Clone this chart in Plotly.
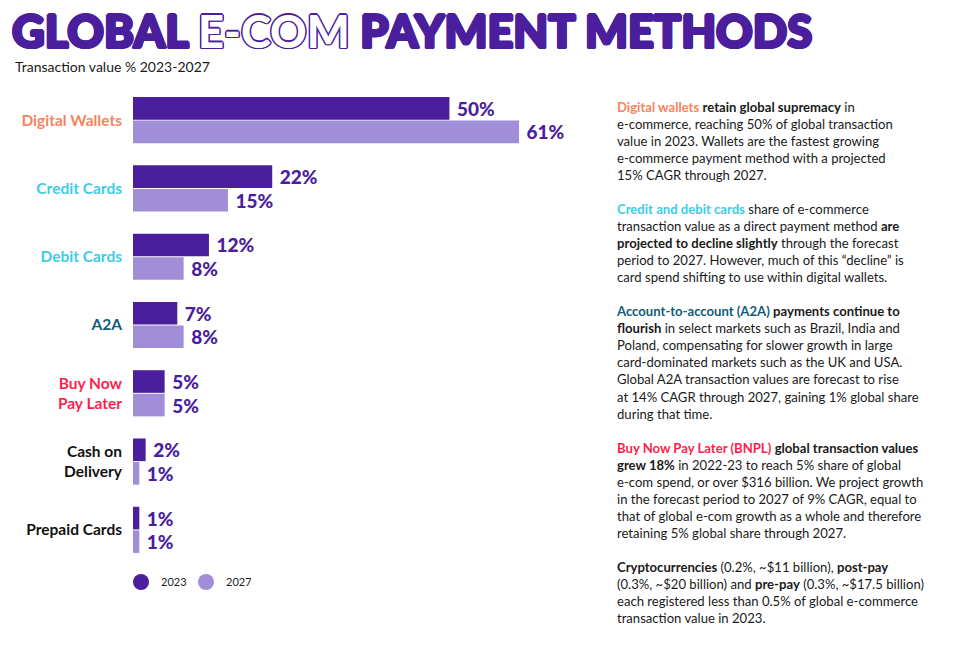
"""
Global e-com payment methods - transaction value share 2023 vs 2027
"""

import plotly.graph_objects as go

# data
categories = ["Digital Wallets", "Credit Cards", "Debit Cards", "A2A",
              "Buy Now Pay Later", "Cash on Delivery", "Prepaid Cards"]
tick_labels = ["Digital Wallets", "Credit Cards", "Debit Cards", "A2A",
               "Buy Now<br>Pay Later", "Cash on<br>Delivery", "Prepaid Cards"]
tick_colors = ["#f7845e", "#3ecbe9", "#3ecbe9", "#0f5c7c",
               "#ff1e4b", "#111111", "#111111"]
share_2023 = [50, 22, 12, 7, 5, 2, 1]
share_2027 = [61, 15, 8, 8, 5, 1, 1]

DARK = "#4a1e9c"
LIGHT = "#a08fd8"
FONT = "Lato"

# page geometry (px), body margin is removed in the page so 0,0 is the corner
W, H = 979, 646
L, T = 133, 86
PW = 443
PH = 478
R = W - L - PW
B = H - T - PH


def px_x(x):
    return (x - L) / PW


def px_y(y):
    return (T + PH - y) / PH


fig = go.Figure()
for name, vals, col in [("2023", share_2023, DARK), ("2027", share_2027, LIGHT)]:
    fig.add_trace(go.Bar(
        y=categories, x=vals, orientation="h", name=name,
        marker=dict(color=col, line=dict(width=0)),
        texttemplate="\u00a0%{x}%", textposition="outside",
        constraintext="none", cliponaxis=False,
        textfont=dict(family=FONT, size=19, color=DARK, weight=900),
        showlegend=False,
    ))
    # circle markers just for the legend
    fig.add_trace(go.Scatter(
        x=[None], y=[None], mode="markers", name=name,
        marker=dict(color=col, size=16, symbol="circle"),
    ))

ticktext = [f'<span style="color:{c}"><b>{t}</b></span>'
            for t, c in zip(tick_labels, tick_colors)]

notes = [
    '<span style="color:#f7845e"><b>Digital wallets</b></span> <b>retain global supremacy</b> in<br>'
    'e-commerce, reaching 50% of global transaction<br>'
    'value in 2023. Wallets are the fastest growing<br>'
    'e-commerce payment method with a projected<br>'
    '15% CAGR through 2027.',
    '<span style="color:#3ecbe9"><b>Credit and debit cards</b></span> share of e-commerce<br>'
    'transaction value as a direct payment method <b>are</b><br>'
    '<b>projected to decline slightly</b> through the forecast<br>'
    'period to 2027. However, much of this “decline” is<br>'
    'card spend shifting to use within digital wallets.',
    '<span style="color:#0f5c7c"><b>Account-to-account (A2A)</b></span> <b>payments continue to</b><br>'
    '<b>flourish</b> in select markets such as Brazil, India and<br>'
    'Poland, compensating for slower growth in large<br>'
    'card-dominated markets such as the UK and USA.<br>'
    'Global A2A transaction values are forecast to rise<br>'
    'at 14% CAGR through 2027, gaining 1% global share<br>'
    'during that time.',
    '<span style="color:#ff1e4b"><b>Buy Now Pay Later (BNPL)</b></span> <b>global transaction values</b><br>'
    '<b>grew 18%</b> in 2022-23 to reach 5% share of global<br>'
    'e-com spend, or over $316 billion. We project growth<br>'
    'in the forecast period to 2027 of 9% CAGR, equal to<br>'
    'that of global e-com growth as a whole and therefore<br>'
    'retaining 5% global share through 2027.',
    '<b>Cryptocurrencies</b> (0.2%, ~$11 billion), <b>post-pay</b><br>'
    '(0.3%, ~$20 billion) and <b>pre-pay</b> (0.3%, ~$17.5 billion)<br>'
    'each registered less than 0.5% of global e-commerce<br>'
    'transaction value in 2023.',
]

fig.add_annotation(
    text="<br><br>".join(notes), xref="paper", yref="paper",
    x=px_x(614), y=px_y(97), xanchor="left", yanchor="top", align="left",
    showarrow=False, font=dict(family=FONT, size=13.1, color="#1a1a1a"),
)
fig.add_annotation(
    text="Transaction value % 2023-2027", xref="paper", yref="paper",
    x=px_x(13), y=px_y(66), xanchor="left", yanchor="middle",
    showarrow=False, font=dict(family=FONT, size=14, color="#1a1a1a"),
)

outline = ", ".join(f"{dx}px {dy}px 0 {DARK}" for dx, dy in
                    [(1.5, 0), (-1.5, 0), (0, 1.5), (0, -1.5),
                     (1, 1), (-1, -1), (1, -1), (-1, 1)])

fig.update_layout(
    width=W, height=H,
    margin=dict(l=L, r=R, t=T, b=B),
    paper_bgcolor="white", plot_bgcolor="white",
    title=dict(
        text='GLOBAL <span style="color:white">E-COM</span> PAYMENT METHODS',
        xref="container", yref="container", x=12 / W,
        y=1 - 32 / H, xanchor="left", yanchor="middle",
        font=dict(family=FONT, size=45.2, color=DARK, weight=900, shadow=outline),
    ),
    barmode="group", bargap=0.31, bargroupgap=0.04,
    xaxis=dict(range=[0, 70], visible=False, fixedrange=True),
    yaxis=dict(
        categoryorder="array", categoryarray=categories, autorange="reversed",
        tickvals=categories, ticktext=ticktext, ticks="", showline=False,
        showgrid=False, ticklabelstandoff=10,
        tickfont=dict(family=FONT, size=15.5),
    ),
    legend=dict(
        orientation="h", x=px_x(121), y=px_y(582), xanchor="left",
        yanchor="middle", entrywidth=20, entrywidthmode="pixels",
        font=dict(family=FONT, size=11, color="#222222"),
    ),
)

fig.write_html("out.html", config={"displayModeBar": False},
               post_script="document.body.style.margin = '0';")
